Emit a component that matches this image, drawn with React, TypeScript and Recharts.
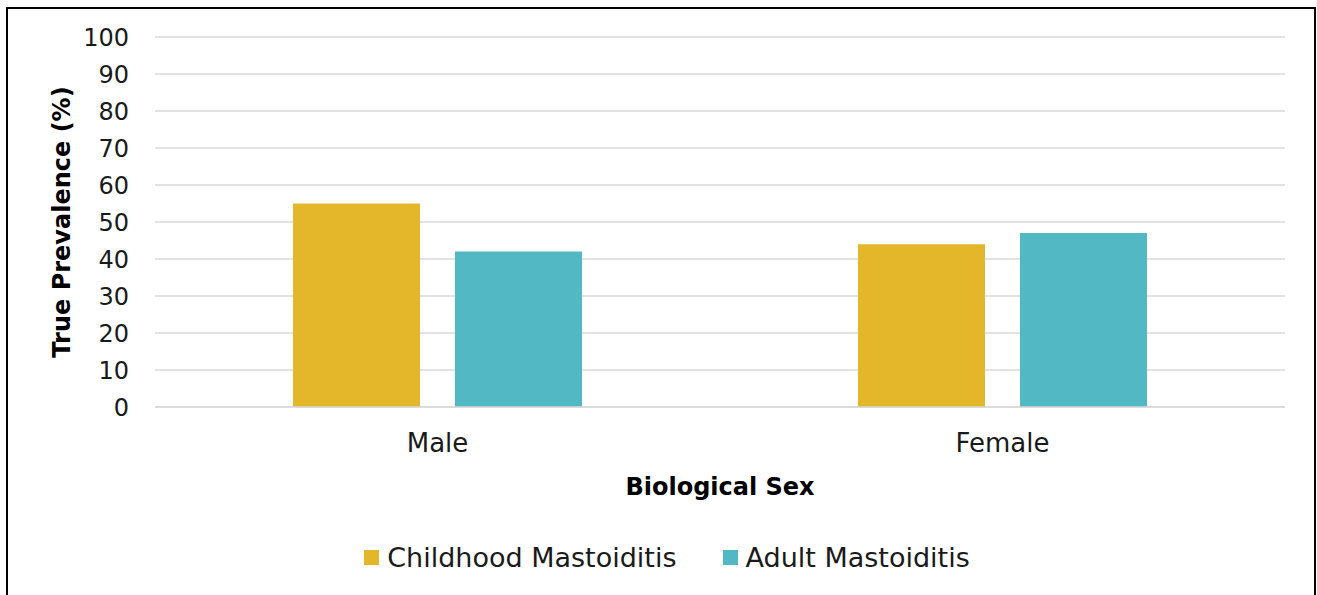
import * as React from 'react';
import {
  BarChart, Bar, XAxis, YAxis, CartesianGrid, Legend,
} from 'recharts';

// categories + series values (true prevalence, %)
const categories = ['Male', 'Female'];
const childhood = [55, 44];
const adult = [42, 47];
const yTicks = [0, 10, 20, 30, 40, 50, 60, 70, 80, 90, 100];

const seriesNames = { childhood: 'Childhood Mastoiditis', adult: 'Adult Mastoiditis' };
const GOLD = '#E4B62A';
const TEAL = '#52B8C3';
const FONT = '"DejaVu Sans", sans-serif';

const data = categories.map((c, i) => ({
  sex: c,
  childhood: childhood[i],
  adult: adult[i],
}));

function LegendBox() {
  const items = [
    { name: seriesNames.childhood, color: GOLD },
    { name: seriesNames.adult, color: TEAL },
  ];
  return (
    <div style={{ display: 'flex', justifyContent: 'center', alignItems: 'center', height: 62, paddingLeft: 12 }}>
      {items.map((it, i) => (
        <div key={it.name} style={{ display: 'flex', alignItems: 'center', marginLeft: i === 0 ? 0 : 46 }}>
          <span style={{ display: 'inline-block', width: 15, height: 15, background: it.color, marginRight: 8 }} />
          <span style={{ fontFamily: FONT, fontSize: 27, color: '#1a1a1a' }}>{it.name}</span>
        </div>
      ))}
    </div>
  );
}

export default function App() {
  return (
    <div
      style={{
        position: 'fixed',
        left: 6,
        top: 7,
        width: 1306,
        height: 588,
        borderTop: '2px solid #000',
        borderLeft: '2px solid #000',
        borderRight: '2px solid #000',
        background: '#fff',
        overflow: 'hidden',
      }}
    >
      <BarChart
        width={1306}
        height={588}
        data={data}
        margin={{ top: 28, right: 29, left: 0, bottom: 0 }}
        barSize={127}
        barGap={35}
      >
        <CartesianGrid vertical={false} stroke="#D9D9D9" strokeWidth={1.5} />
        <XAxis
          dataKey="sex"
          height={130}
          tickSize={0}
          tickMargin={27}
          tickLine={false}
          axisLine={{ stroke: '#D9D9D9', strokeWidth: 1.5 }}
          tick={{ fill: '#1a1a1a', fontSize: 26, fontFamily: FONT }}
          label={{
            value: 'Biological Sex',
            position: 'insideTop',
            offset: 71,
            style: { fill: '#000', fontSize: 24, fontWeight: 700, fontFamily: FONT },
          }}
        />
        <YAxis
          width={147}
          domain={[0, 100]}
          ticks={yTicks}
          interval={0}
          tickSize={0}
          tickMargin={26}
          tickLine={false}
          axisLine={false}
          tick={{ fill: '#1a1a1a', fontSize: 24, fontFamily: FONT }}
          label={{
            value: 'True Prevalence (%)',
            angle: -90,
            position: 'center',
            dx: -20,
            style: { fill: '#000', fontSize: 24, fontWeight: 700, fontFamily: FONT, textAnchor: 'middle' },
          }}
        />
        <Legend
          verticalAlign="bottom"
          height={60}
          content={<LegendBox />}
          wrapperStyle={{ left: 0, width: 1306, bottom: 11 }}
        />
        <Bar dataKey="childhood" name={seriesNames.childhood} fill={GOLD} isAnimationActive={false} />
        <Bar dataKey="adult" name={seriesNames.adult} fill={TEAL} isAnimationActive={false} />
      </BarChart>
    </div>
  );
}
